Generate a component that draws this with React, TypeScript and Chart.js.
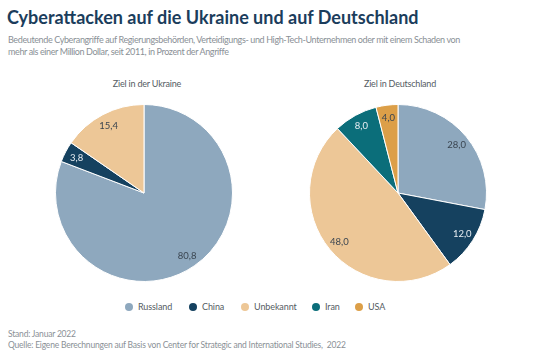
import React, { useEffect, useRef } from "react";
import { Chart, registerables } from "chart.js";

Chart.register(...registerables);

const categories = ["Russland", "China", "Unbekannt", "Iran", "USA"];
const colors = ["#8ea8be", "#15415f", "#edc797", "#0b6e7a", "#dc9f48"];
const labelColors = ["#3a4550", "#e8eef3", "#3a4550", "#e8eef3", "#3a4550"];
const ukraineValues = [80.8, 3.8, 15.4, 0, 0];
const germanyValues = [28.0, 12.0, 48.0, 8.0, 4.0];
const legendX = [125, 189, 241, 312, 355];

const FONT = "Lato, 'Noto Sans', sans-serif";

const valueLabels = {
  id: "valueLabels",
  afterDatasetsDraw(chart: any) {
    const ctx = chart.ctx;
    const meta = chart.getDatasetMeta(0);
    const data = chart.data.datasets[0].data as number[];
    ctx.save();
    ctx.font = `9.5px ${FONT}`;
    ctx.textAlign = "center";
    ctx.textBaseline = "middle";
    meta.data.forEach((arc: any, i: number) => {
      const v = data[i];
      if (!v) return;
      const p = arc.getProps(["x", "y", "startAngle", "endAngle", "outerRadius"], true);
      const mid = (p.startAngle + p.endAngle) / 2;
      const r = p.outerRadius * 0.86;
      ctx.fillStyle = labelColors[i];
      ctx.fillText(v.toFixed(1).replace(".", ","), p.x + Math.cos(mid) * r, p.y + Math.sin(mid) * r);
    });
    ctx.restore();
  },
};

function Pie({ values, left }: { values: number[]; left: number }) {
  const ref = useRef<HTMLCanvasElement>(null);
  useEffect(() => {
    const chart = new Chart(ref.current!, {
      type: "pie",
      data: {
        labels: categories,
        datasets: [
          {
            data: values,
            backgroundColor: colors,
            borderColor: "#ffffff",
            borderWidth: 1,
          },
        ],
      },
      options: {
        animation: false,
        responsive: false,
        maintainAspectRatio: false,
        layout: { padding: 0 },
        plugins: { legend: { display: false }, tooltip: { enabled: false } },
      },
      plugins: [valueLabels],
    });
    return () => chart.destroy();
  }, []);
  return (
    <canvas
      ref={ref}
      width={178}
      height={178}
      style={{ position: "absolute", left, top: 104, width: 178, height: 178 }}
    />
  );
}

export default function App() {
  return (
    <div
      style={{
        position: "fixed",
        left: 0,
        top: 0,
        width: 540,
        height: 360,
        background: "#ffffff",
        fontFamily: FONT,
        overflow: "hidden",
      }}
    >
      <div
        style={{
          position: "absolute",
          left: 7,
          top: 6,
          fontSize: 18,
          fontWeight: 700,
          color: "#1b3d5c",
          whiteSpace: "nowrap",
        }}
      >
        Cyberattacken auf die Ukraine und auf Deutschland
      </div>
      <div
        style={{
          position: "absolute",
          left: 8,
          top: 34,
          fontSize: 9,
          letterSpacing: -0.38,
          lineHeight: "12px",
          color: "#8a9096",
          whiteSpace: "nowrap",
        }}
      >
        Bedeutende Cyberangriffe auf Regierungsbehörden, Verteidigungs- und High-Tech-Unternehmen oder mit einem Schaden von
        <br />
        mehr als einer Million Dollar, seit 2011, in Prozent der Angriffe
      </div>
      <div style={{ position: "absolute", left: 47, width: 200, top: 78, textAlign: "center", fontSize: 9, letterSpacing: -0.2, color: "#555c63" }}>
        Ziel in der Ukraine
      </div>
      <div style={{ position: "absolute", left: 300, width: 200, top: 78, textAlign: "center", fontSize: 9, letterSpacing: -0.2, color: "#555c63" }}>
        Ziel in Deutschland
      </div>
      <Pie values={ukraineValues} left={55} />
      <Pie values={germanyValues} left={309} />
      {categories.map((c, i) => (
        <div
          key={c}
          style={{
            position: "absolute",
            left: legendX[i],
            top: 301,
            display: "flex",
            alignItems: "center",
            fontSize: 9,
            letterSpacing: -0.1,
            color: "#555c63",
            whiteSpace: "nowrap",
          }}
        >
          <span
            style={{
              display: "inline-block",
              width: 8,
              height: 8,
              borderRadius: "50%",
              background: colors[i],
              marginRight: 5,
            }}
          />
          <span>{c}</span>
        </div>
      ))}
      <div
        style={{
          position: "absolute",
          left: 8,
          top: 329,
          fontSize: 8.5,
          letterSpacing: -0.2,
          lineHeight: "10.5px",
          color: "#8a9096",
          whiteSpace: "nowrap",
        }}
      >
        Stand: Januar 2022
        <br />
        Quelle: Eigene Berechnungen auf Basis von Center for Strategic and International Studies,&nbsp; 2022
      </div>
    </div>
  );
}
